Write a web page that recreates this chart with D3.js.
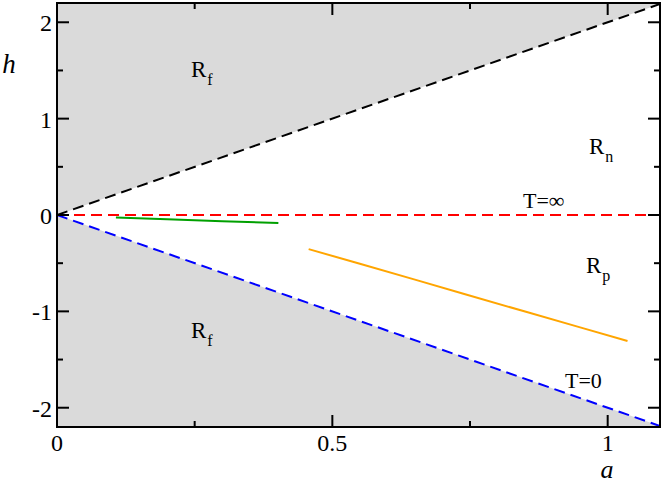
<!DOCTYPE html>
<html><head><meta charset="utf-8">
<script src="https://cdn.jsdelivr.net/npm/d3@7"></script>
<style>body{margin:0;background:#fff}svg{display:block}</style>
</head><body><div id="chart"></div>
<script>
const xDomain = [0, 1.095];
const yDomain = [-2.2, 2.2];
const xTicks = [0, 0.5, 1];
const xTickLabels = ["0", "0.5", "1"];
const xMinorTicks = [0.25, 0.75];
const yTicks = [-2, -1, 0, 1, 2];
const yTickLabels = ["-2", "-1", "0", "1", "2"];
const yMinorTicks = [-1.5, -0.5, 0.5, 1.5];
const upperBoundary = [[0, 0], [1.095, 2.19]];
const lowerBoundary = [[0, 0], [1.095, -2.19]];
const tInfLine = [[0, 0], [1.095, 0]];
const greenA = [0.107, 0.2, 0.3, 0.402];
const greenH = [-0.026, -0.045, -0.064, -0.084];
const orangeA = [0.457, 0.55, 0.65, 0.738, 0.85, 0.95, 1.036];
const orangeH = [-0.354, -0.506, -0.671, -0.818, -1.002, -1.166, -1.308];
const regionLabels = [
  {px: 191, py: 77, main: "R", sub: "f"},
  {px: 191, py: 338, main: "R", sub: "f"},
  {px: 589, py: 154, main: "R", sub: "n"},
  {px: 586, py: 273, main: "R", sub: "p"}
];
const lineLabels = [
  {px: 523, py: 208, text: "T=∞"},
  {px: 565, py: 388, text: "T=0"}
];

const FONT = '"Liberation Serif","Times New Roman","DejaVu Serif",serif';
const W = 664, H = 483;
const m = {l: 57, r: 4, t: 3, b: 56};
const pw = W - m.l - m.r, ph = H - m.t - m.b;
const svg = d3.select("#chart").append("svg").attr("width", W).attr("height", H)
  .style("font-family", FONT);
const x = d3.scaleLinear().domain(xDomain).range([m.l, m.l + pw]);
const y = d3.scaleLinear().domain(yDomain).range([m.t + ph, m.t]);

svg.append("clipPath").attr("id", "clip").append("rect")
  .attr("x", m.l).attr("y", m.t).attr("width", pw).attr("height", ph);
const g = svg.append("g").attr("clip-path", "url(#clip)");

const line = d3.line().x(d => x(d[0])).y(d => y(d[1]));
g.append("path").attr("d", line([[0, 0], upperBoundary[1], [xDomain[1], yDomain[1]], [0, yDomain[1]]]))
  .attr("fill", "#dadada");
g.append("path").attr("d", line([[0, 0], lowerBoundary[1], [xDomain[1], yDomain[0]], [0, yDomain[0]]]))
  .attr("fill", "#dadada");

g.append("path").attr("d", line(upperBoundary)).attr("stroke", "#000").attr("stroke-width", 2)
  .attr("stroke-dasharray", "11,6").attr("fill", "none");
g.append("path").attr("d", line(lowerBoundary)).attr("stroke", "#0000ff").attr("stroke-width", 2)
  .attr("stroke-dasharray", "11,6").attr("fill", "none");
g.append("path").attr("d", line(tInfLine)).attr("stroke", "#ff0000").attr("stroke-width", 2)
  .attr("stroke-dasharray", "11,6").attr("fill", "none");

g.append("path").attr("d", line(greenA.map((a, i) => [a, greenH[i]])))
  .attr("stroke", "#00a000").attr("stroke-width", 2).attr("fill", "none");
g.append("path").attr("d", line(orangeA.map((a, i) => [a, orangeH[i]])))
  .attr("stroke", "#ffa500").attr("stroke-width", 2).attr("fill", "none");

svg.append("rect").attr("x", m.l).attr("y", m.t).attr("width", pw).attr("height", ph)
  .attr("fill", "none").attr("stroke", "#000").attr("stroke-width", 2);

const tk = svg.append("g").attr("stroke", "#000").attr("stroke-width", 2);
function xt(v, len) {
  tk.append("line").attr("x1", x(v)).attr("x2", x(v)).attr("y1", m.t + ph).attr("y2", m.t + ph - len);
  tk.append("line").attr("x1", x(v)).attr("x2", x(v)).attr("y1", m.t).attr("y2", m.t + len);
}
function yt(v, len) {
  tk.append("line").attr("y1", y(v)).attr("y2", y(v)).attr("x1", m.l).attr("x2", m.l + len);
  tk.append("line").attr("y1", y(v)).attr("y2", y(v)).attr("x1", m.l + pw).attr("x2", m.l + pw - len);
}
xTicks.forEach(v => { if (v > xDomain[0]) xt(v, 12); });
xMinorTicks.forEach(v => xt(v, 6));
yTicks.forEach(v => yt(v, 12));
yMinorTicks.forEach(v => yt(v, 6));

xTicks.forEach((v, i) => svg.append("text").attr("x", x(v)).attr("y", 451)
  .attr("text-anchor", "middle").attr("font-size", 24).text(xTickLabels[i]));
yTicks.forEach((v, i) => svg.append("text").attr("x", m.l - 5).attr("y", y(v) + 9)
  .attr("text-anchor", "end").attr("font-size", 24).text(yTickLabels[i]));

svg.append("text").attr("x", 9).attr("y", 73).attr("text-anchor", "middle")
  .attr("font-size", 27).attr("font-style", "italic").text("h");
svg.append("text").attr("x", 607).attr("y", 478).attr("text-anchor", "middle")
  .attr("font-size", 26).attr("font-style", "italic").text("a");

regionLabels.forEach(d => {
  const t = svg.append("text").attr("x", d.px).attr("y", d.py).attr("font-size", 23);
  t.append("tspan").text(d.main);
  t.append("tspan").attr("font-size", 16).attr("dx", 1).attr("dy", 8).text(d.sub);
});
lineLabels.forEach(d => svg.append("text").attr("x", d.px).attr("y", d.py)
  .attr("font-size", 22).text(d.text));
</script></body></html>
